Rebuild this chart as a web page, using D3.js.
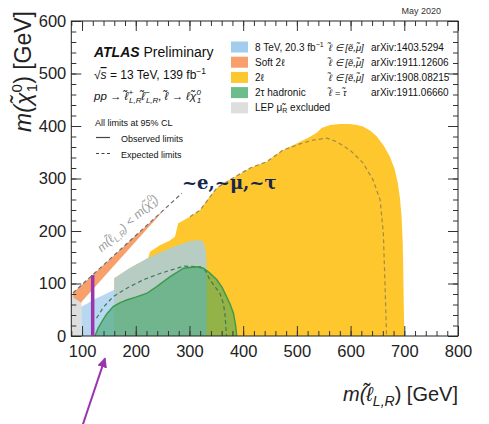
<!DOCTYPE html>
<html>
<head>
<meta charset="utf-8">
<script src="https://cdn.jsdelivr.net/npm/d3@7/dist/d3.min.js"></script>
<style>
  html, body { margin: 0; padding: 0; background: #fff; }
  svg { display: block; font-family: "Liberation Sans", Arial, sans-serif; }
</style>
</head>
<body>
<svg id="chart" width="489" height="424"></svg>
<script>
// Exclusion contours in the (m(slepton), m(neutralino)) plane, values in GeV.
const xTicks = [100, 200, 300, 400, 500, 600, 700, 800];
const yTicks = [0, 100, 200, 300, 400, 500, 600];

// 2l analysis, observed exclusion (filled)
const twoLepObs = [[160,0],[160,110],[189,129.5],[223,148.6],[226.6,160.6],[245,173],[262,181],[273,189],[279,215],[301,227],[320,240],[335,262],[351,282],[365,292],[381,301],[398,311],[413,320],[428,326],[444,332],[460,345],[474,354],[490,362],[506,370],[522,378],[537,387],[546,396],[562,402],[580,404],[599,404],[612,402],[623,399],[637,391],[649,380],[662,362],[673,342],[682,318],[688,291],[692,262],[695,227],[697,180],[698,132],[699,60],[700,0]];
// 2l analysis, expected limit (dashed)
const twoLepExp = [[301,227],[320,240],[351,282],[381,301],[413,320],[444,332],[474,354],[506,366],[530,373],[556,377],[574,370],[599,354],[623,330],[642,297],[655,259],[661,196],[664,101],[667,0]];

// 8 TeV result
const run1Obs = [[99,0],[99,56],[110,62],[121,69],[140,78],[160,88],[160,110],[189,129.5],[223,148.6],[264,167.6],[301,181],[320,183],[327,177],[331,160],[332,135],[332,0]];

// Soft 2l (compressed region along the diagonal)
const softObs = [[83,82],[256,244],[98,64],[84,73]];

// 2tau hadronic, observed (filled + solid line) and expected (dashed)
const tauObs = [[124,0],[130,15],[136.6,27],[146,42],[158,56],[170,63],[183,68.6],[200,74],[220,81],[239,94],[264,113],[289,129],[313,132],[326,129],[338,120],[351,107],[361,92],[369,75],[376,60],[382,43],[386,20],[388,0]];
const tauExp = [[127,34],[140,55],[158,75],[185,92],[214,107],[245,119],[289,133],[320,132],[330,124],[338,107],[357,81],[363,62],[366,43],[369,0]];

// LEP smuon exclusion
const lepObs = [[80,0],[80,80],[99,80],[99,0]];

// kinematic boundary m(slepton) = m(neutralino), drawn dashed
const diagonal = [[83,82],[286,272]];

// highlighted low-mass point and arrow pointing at it
const markerMass = 119.8, markerTop = 116;
const arrowFrom = [99.4, -175], arrowTo = [142.8, -42.5];

// legend
const legendNames = ["8 TeV, 20.3 fb", "Soft 2\u2113", "2\u2113", "2\u03C4 hadronic", "LEP \u03BC\u0303"];
const legendSel = ["\u2113\u0303 \u2208 [\u1EBD,\u03BC\u0303]", "\u2113\u0303 \u2208 [\u1EBD,\u03BC\u0303]", "\u2113\u0303 \u2208 [\u1EBD,\u03BC\u0303]", "\u2113\u0303 = \u03C4\u0303", ""];
const legendRefs = ["arXiv:1403.5294", "arXiv:1911.12606", "arXiv:1908.08215", "arXiv:1911.06660", ""];
const legendColors = ["#a3cdec", "#f8a06c", "#fdc72f", "#6dbd8c", "#dedede"];

const svg = d3.select("#chart");
const x = d3.scaleLinear().domain([80, 800]).range([71.3, 458]);
const y = d3.scaleLinear().domain([0, 600]).range([336, 21]);

const area = d3.line().x(d => x(d[0])).y(d => y(d[1]));
const poly = pts => area(pts) + "Z";

const plot = svg.append("g");
plot.append("path").attr("d", poly(twoLepObs)).attr("fill", "#fec72e");
plot.append("path").attr("d", poly(lepObs)).attr("fill", "#dedede");
plot.append("path").attr("d", poly(run1Obs)).attr("fill", "#a3cdec").attr("fill-opacity", 0.78);
plot.append("path").attr("d", poly(softObs)).attr("fill", "#f8a06c");
plot.append("path").attr("d", poly(tauObs)).attr("fill", "#2f9f5e").attr("fill-opacity", 0.52);

plot.append("path").attr("d", area(twoLepExp)).attr("fill", "none")
  .attr("stroke", "#a08a4c").attr("stroke-width", 1.2).attr("stroke-dasharray", "4,3");
plot.append("path").attr("d", area(tauExp)).attr("fill", "none")
  .attr("stroke", "#3f7a55").attr("stroke-width", 1.2).attr("stroke-dasharray", "4,3");
plot.append("path").attr("d", area(tauObs)).attr("fill", "none")
  .attr("stroke", "#3a9a4c").attr("stroke-width", 1.4);
plot.append("path").attr("d", area(diagonal)).attr("fill", "none")
  .attr("stroke", "#6e6e6e").attr("stroke-width", 1.2).attr("stroke-dasharray", "4,3");

// diagonal label
const ang = -Math.atan2(y(diagonal[0][1]) - y(diagonal[1][1]), x(diagonal[1][0]) - x(diagonal[0][0])) * 180 / Math.PI;
const dl = svg.append("text")
  .attr("transform", `translate(${x(190)},${y(190) - 10}) rotate(${ang})`)
  .attr("text-anchor", "middle").attr("font-size", 12).attr("fill", "#9a9a9a")
  .attr("font-style", "italic");
dl.append("tspan").text("m(\u2113\u0303");
dl.append("tspan").attr("font-size", 8.5).attr("dy", 3).text("L,R");
dl.append("tspan").attr("dy", -3).text(") < m(\u03C7\u0303");
dl.append("tspan").attr("font-size", 8.5).attr("dy", -5).text("0");
dl.append("tspan").attr("font-size", 8.5).attr("dx", -5).attr("dy", 8).text("1");
dl.append("tspan").attr("dy", -3).text(")");

// frame and ticks
function ticks(axisFn, scale, g, major, minor) {
  g.append("g").call(axisFn(scale).tickValues(minor).tickSize(-5).tickFormat(""));
  g.append("g").call(axisFn(scale).tickValues(major).tickSize(-10).tickFormat(""));
  g.selectAll(".domain").remove();
  g.selectAll("line").attr("stroke", "#333");
}
const xMinor = d3.range(80, 801, 20), yMinor = d3.range(0, 601, 20);
ticks(d3.axisBottom, x, svg.append("g").attr("transform", `translate(0,${y(0)})`), xTicks, xMinor);
ticks(d3.axisTop, x, svg.append("g").attr("transform", `translate(0,${y(600)})`), xTicks, xMinor);
ticks(d3.axisLeft, y, svg.append("g").attr("transform", `translate(${x(80)},0)`), yTicks, yMinor);
ticks(d3.axisRight, y, svg.append("g").attr("transform", `translate(${x(800)},0)`), yTicks, yMinor);

svg.append("rect").attr("x", x(80)).attr("y", y(600))
  .attr("width", x(800) - x(80)).attr("height", y(0) - y(600))
  .attr("fill", "none").attr("stroke", "#222").attr("stroke-width", 1);

// tick labels
const xl = svg.append("g").attr("transform", `translate(0,${y(0)})`)
  .call(d3.axisBottom(x).tickValues(xTicks).tickSize(0).tickPadding(9));
const yl = svg.append("g").attr("transform", `translate(${x(80)},0)`)
  .call(d3.axisLeft(y).tickValues(yTicks).tickSize(0).tickPadding(5));
[xl, yl].forEach(g => {
  g.select(".domain").remove();
  g.selectAll("text").attr("font-size", 16.5).attr("fill", "#222")
    .attr("font-family", "'Liberation Sans', Arial, sans-serif");
});

// axis titles
const xt = svg.append("text").attr("x", 458).attr("y", 401).attr("text-anchor", "end")
  .attr("font-size", 20).attr("fill", "#222");
xt.append("tspan").attr("font-style", "italic").text("m(\u2113\u0303");
xt.append("tspan").attr("font-style", "italic").attr("font-size", 14).attr("dy", 5).text("L,R");
xt.append("tspan").attr("dy", -5).text(") [GeV]");

const yt = svg.append("text").attr("transform", "translate(31,11) rotate(-90)")
  .attr("text-anchor", "end").attr("font-size", 23).attr("fill", "#222");
yt.append("tspan").attr("font-style", "italic").text("m(\u03C7\u0303");
yt.append("tspan").attr("font-size", 15).attr("dy", -9).text("0");
yt.append("tspan").attr("font-size", 15).attr("dx", -8).attr("dy", 15).text("1");
yt.append("tspan").attr("dy", -6).text(") [GeV]");

// header text
svg.append("text").attr("x", 441).attr("y", 14).attr("text-anchor", "end")
  .attr("font-size", 9).attr("fill", "#333").text("May 2020");

const at = svg.append("text").attr("x", 94).attr("y", 57).attr("font-size", 14).attr("fill", "#111");
at.append("tspan").attr("font-weight", "bold").attr("font-style", "italic").text("ATLAS");
at.append("tspan").text(" Preliminary");

const sq = svg.append("text").attr("x", 94).attr("y", 79).attr("font-size", 12).attr("fill", "#111");
sq.append("tspan").text("\u221A");
sq.append("tspan").attr("font-style", "italic").attr("text-decoration", "overline").text("s");
sq.append("tspan").text(" = 13 TeV, 139 fb");
sq.append("tspan").attr("font-size", 8.5).attr("dy", -5).text("\u22121");

const pp = svg.append("text").attr("x", 94).attr("y", 100).attr("font-size", 11.5).attr("fill", "#111")
  .attr("font-style", "italic");
pp.append("tspan").text("pp \u2192 \u2113\u0303");
pp.append("tspan").attr("font-size", 8).attr("dy", -5).text("+");
pp.append("tspan").attr("font-size", 8).attr("dx", -4).attr("dy", 8).text("L,R");
pp.append("tspan").attr("dy", -3).text("\u2113\u0303");
pp.append("tspan").attr("font-size", 8).attr("dy", -5).text("\u2212");
pp.append("tspan").attr("font-size", 8).attr("dx", -4).attr("dy", 8).text("L,R");
pp.append("tspan").attr("dy", -3).text(", \u2113\u0303 \u2192 \u2113\u03C7\u0303");
pp.append("tspan").attr("font-size", 8).attr("dy", -5).text("0");
pp.append("tspan").attr("font-size", 8).attr("dx", -4).attr("dy", 8).text("1");

svg.append("text").attr("x", 95).attr("y", 126).attr("font-size", 9).attr("fill", "#111")
  .text("All limits at 95% CL");
svg.append("line").attr("x1", 96).attr("x2", 110).attr("y1", 137.5).attr("y2", 137.5)
  .attr("stroke", "#444").attr("stroke-width", 1.2);
svg.append("text").attr("x", 121).attr("y", 141.5).attr("font-size", 9).attr("fill", "#111")
  .text("Observed limits");
svg.append("line").attr("x1", 96).attr("x2", 110).attr("y1", 153.5).attr("y2", 153.5)
  .attr("stroke", "#444").attr("stroke-width", 1.2).attr("stroke-dasharray", "3,2.5");
svg.append("text").attr("x", 121).attr("y", 157.5).attr("font-size", 9).attr("fill", "#111")
  .text("Expected limits");

// legend
const lg = svg.append("g").attr("font-size", 10).attr("fill", "#111");
legendNames.forEach((name, i) => {
  const cy = 47 + i * 15.2;
  lg.append("rect").attr("x", 231).attr("y", cy - 5.5).attr("width", 17).attr("height", 11)
    .attr("fill", legendColors[i]);
  const t = lg.append("text").attr("x", 255).attr("y", cy + 3.5);
  t.append("tspan").text(name);
  if (i === 0) t.append("tspan").attr("font-size", 7).attr("dy", -4).text("\u22121");
  if (i === 4) {
    t.append("tspan").attr("font-size", 7).attr("dy", 2).text("R");
    t.append("tspan").attr("dy", -2).text(" excluded");
  }
  lg.append("text").attr("x", 329).attr("y", cy + 3.5).attr("font-size", 9.5)
    .attr("font-style", "italic").text(legendSel[i]);
  lg.append("text").attr("x", 371).attr("y", cy + 3.5).text(legendRefs[i]);
});

// annotation: slepton flavours
svg.append("text").attr("x", 182).attr("y", 189)
  .attr("font-family", "'DejaVu Serif', serif").attr("font-weight", "bold")
  .attr("font-size", 18).attr("fill", "#15264f").text("~e,~\u03BC,~\u03C4");

// highlighted mass point and arrow
svg.append("line").attr("x1", x(markerMass)).attr("x2", x(markerMass))
  .attr("y1", y(0)).attr("y2", y(markerTop))
  .attr("stroke", "#9b35ad").attr("stroke-width", 3.5);

const defs = svg.append("defs");
defs.append("marker").attr("id", "head").attr("viewBox", "0 0 10 10")
  .attr("refX", 9).attr("refY", 5).attr("markerWidth", 5).attr("markerHeight", 5)
  .attr("orient", "auto")
  .append("path").attr("d", "M0,0 L10,5 L0,10 Z").attr("fill", "#9b35ad");
svg.append("line")
  .attr("x1", x(arrowFrom[0])).attr("y1", y(arrowFrom[1]))
  .attr("x2", x(arrowTo[0])).attr("y2", y(arrowTo[1]))
  .attr("stroke", "#9b35ad").attr("stroke-width", 2).attr("marker-end", "url(#head)");
</script>
</body>
</html>
